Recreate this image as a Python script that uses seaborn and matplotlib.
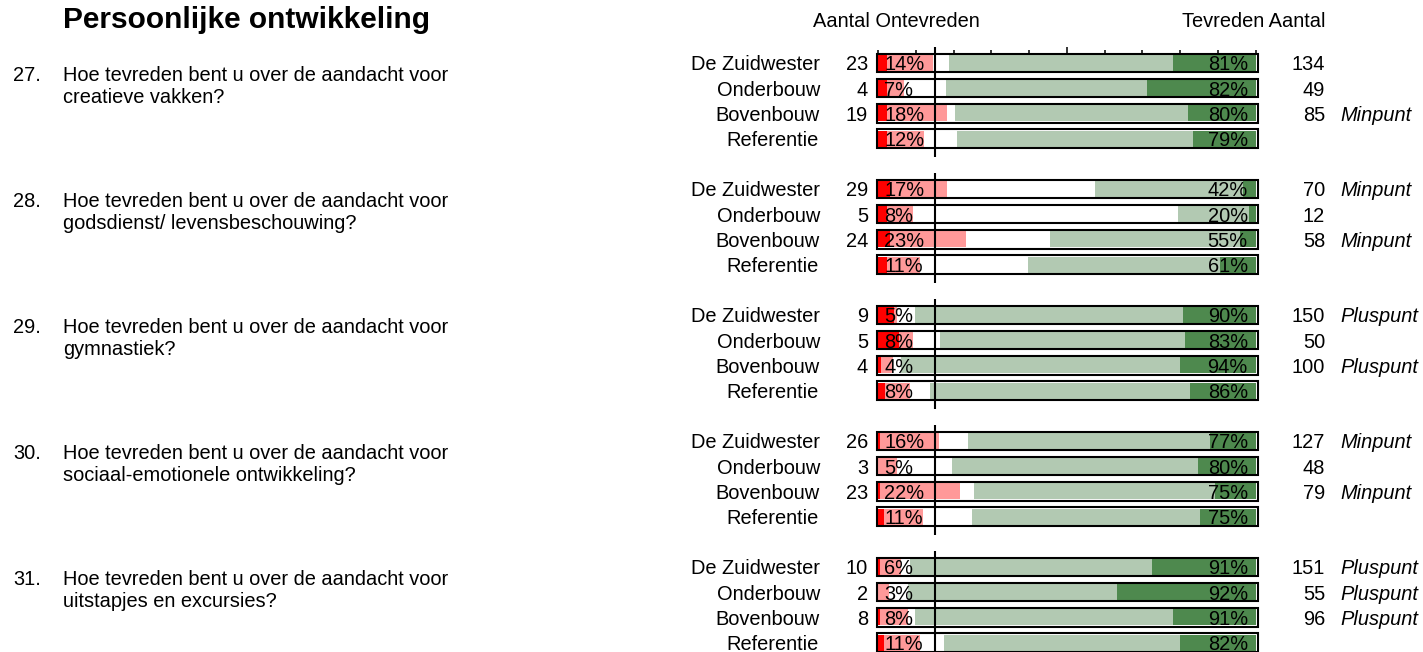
import numpy as np
import pandas as pd
import matplotlib
matplotlib.use("Agg")
import matplotlib.pyplot as plt
import matplotlib.transforms as mtransforms
import seaborn as sns

# ---------------- data ----------------
title = "Persoonlijke ontwikkeling"
header_left = "Aantal Ontevreden"
header_right = "Tevreden Aantal"
question_numbers = ["27.", "28.", "29.", "30.", "31."]
question_line1 = ["Hoe tevreden bent u over de aandacht voor"] * 5
question_line2 = ["creatieve vakken?",
                  "godsdienst/ levensbeschouwing?",
                  "gymnastiek?",
                  "sociaal-emotionele ontwikkeling?",
                  "uitstapjes en excursies?"]
groups = ["De Zuidwester", "Onderbouw", "Bovenbouw", "Referentie"]

# segments (percent) per row: 5 questions x 4 groups
zeer_ontevreden = [2.3, 2.3, 2.3, 2.3,
                   3.1, 2.3, 3.1, 2.3,
                   4.2, 5.5, 0.8, 1.8,
                   0.5, 0.0, 0.5, 1.5,
                   0.5, 0.0, 0.5, 1.5]
ontevreden = [12.2, 4.7, 16.1, 9.9,
              15.3, 7.0, 20.1, 8.8,
              0.9, 3.7, 3.2, 6.8,
              15.7, 5.0, 21.1, 10.3,
              5.5, 3.0, 7.5, 9.6]
neutraal = [4.4, 11.1, 1.9, 8.6,
            39.1, 70.2, 22.4, 28.5,
            4.6, 7.1, 2.0, 5.1,
            7.5, 14.7, 3.9, 13.2,
            2.6, 5.0, 1.7, 6.5]
tevreden = [59.2, 53.2, 61.8, 62.6,
            39.2, 18.6, 50.3, 51.0,
            71.1, 65.0, 74.0, 68.9,
            64.2, 65.1, 63.7, 60.3,
            64.0, 55.3, 68.4, 62.4]
zeer_tevreden = [21.9, 28.7, 17.9, 16.6,
                 3.3, 1.9, 4.1, 9.4,
                 19.2, 18.7, 20.0, 17.4,
                 12.1, 15.2, 10.8, 14.7,
                 27.4, 36.7, 21.9, 20.0]

label_ontevreden = [14, 7, 18, 12, 17, 8, 23, 11, 5, 8, 4, 8, 16, 5, 22, 11, 6, 3, 8, 11]
label_tevreden = [81, 82, 80, 79, 42, 20, 55, 61, 90, 83, 94, 86, 77, 80, 75, 75, 91, 92, 91, 82]
aantal_ontevreden = [23, 4, 19, None, 29, 5, 24, None, 9, 5, 4, None,
                     26, 3, 23, None, 10, 2, 8, None]
aantal_tevreden = [134, 49, 85, None, 70, 12, 58, None, 150, 50, 100, None,
                   127, 48, 79, None, 151, 55, 96, None]
punt = ["", "", "Minpunt", "",
        "Minpunt", "", "Minpunt", "",
        "Pluspunt", "", "Pluspunt", "",
        "Minpunt", "", "Minpunt", "",
        "Pluspunt", "Pluspunt", "Pluspunt", ""]

# ---------------- style ----------------
sns.set_theme(style="white")
plt.rcParams["font.family"] = ["Liberation Sans", "DejaVu Sans"]
plt.rcParams["text.color"] = "black"

C_RED = "#FF0000"
C_PINK = "#FF9999"
C_LGREEN = "#B2C9B2"
C_DGREEN = "#4E894E"
FS = 14.4

W, H = 1423, 652
fig = plt.figure(figsize=(W / 100, H / 100), dpi=100)
fig.patch.set_facecolor("white")

ROW_PX = 25.2
ROW0_PX = 63.0
AX_TOP_PX = 53.0
ax = fig.add_axes([878 / W, 0, 377.7 / W, (H - AX_TOP_PX) / H])

n_groups = len(question_numbers)
n_rows = len(groups)
ypos = [g * 5 + r for g in range(n_groups) for r in range(n_rows)]

c1 = np.array(zeer_ontevreden)
c2 = c1 + np.array(ontevreden)
c3 = c2 + np.array(neutraal)
c4 = c3 + np.array(tevreden)
c5 = c4 + np.array(zeer_tevreden)
df = pd.DataFrame({"ypos": ypos, "c1": c1, "c2": c2, "c3": c3, "c4": c4, "c5": c5})

for col, color in [("c5", C_DGREEN), ("c4", C_LGREEN), ("c3", "white"),
                   ("c2", C_PINK), ("c1", C_RED)]:
    sns.barplot(data=df, x=col, y="ypos", orient="y", native_scale=True,
                color=color, saturation=1, width=0.64, errorbar=None,
                linewidth=0, edgecolor="none", ax=ax, zorder=2)

# frames around each bar
ax.barh(df["ypos"], 100.8, left=-0.3, height=0.73, fill=False,
        edgecolor="black", linewidth=1.5, clip_on=False, zorder=3)

# vertical reference line per question
for g in range(n_groups):
    ax.vlines(15, g * 5 - 0.62, g * 5 + 3.73, colors="black", linewidth=1.5,
              zorder=5, clip_on=False)

ax.set_xlim(0, 100)
ax.set_ylim((H - ROW0_PX) / ROW_PX, -(ROW0_PX - AX_TOP_PX) / ROW_PX)
ax.set_xlabel("")
ax.set_ylabel("")
ax.set_yticks([])
for s in ax.spines.values():
    s.set_visible(False)
ax.xaxis.set_ticks_position("top")
ax.set_xticks([50])
ax.set_xticks([t for t in range(0, 101, 10) if t != 50], minor=True)
ax.tick_params(axis="x", which="major", direction="out", length=4, width=1.1,
               color="black", top=True, bottom=False, labeltop=False, labelbottom=False)
ax.tick_params(axis="x", which="minor", direction="out", length=2.5, width=1.1,
               color="black", top=True, bottom=False, labeltop=False, labelbottom=False)
ax.set_facecolor("none")

# ---------------- texts ----------------
tr = mtransforms.blended_transform_factory(fig.transFigure, ax.transData)
BASE = 0.29  # baseline offset (rows) for row-centred text
TXT = dict(color="black")

fig.text(63 / W, 1 - 28.3 / H, title, fontsize=21.5, fontweight="bold",
         va="baseline", ha="left", **TXT)
fig.text(813 / W, 1 - 27 / H, header_left, fontsize=FS, va="baseline", ha="left", **TXT)
fig.text(1326 / W, 1 - 27 / H, header_right, fontsize=FS, va="baseline", ha="right", **TXT)

for g in range(n_groups):
    y0 = g * 5
    ax.text(13 / W, y0 + (81 - ROW0_PX) / ROW_PX, question_numbers[g], transform=tr,
            fontsize=FS, va="baseline", ha="left", **TXT)
    ax.text(63 / W, y0 + (81 - ROW0_PX) / ROW_PX, question_line1[g], transform=tr,
            fontsize=FS, va="baseline", ha="left", **TXT)
    ax.text(63 / W, y0 + (103.3 - ROW0_PX) / ROW_PX, question_line2[g], transform=tr,
            fontsize=FS, va="baseline", ha="left", **TXT)

cat_texts = []
for i, y in enumerate(ypos):
    t = ax.text(772 / W, y + BASE, groups[i % n_rows], transform=tr,
                fontsize=FS, va="baseline", ha="center", **TXT)
    cat_texts.append(t)
    if aantal_ontevreden[i] is not None:
        ax.text(868 / W, y + BASE, str(aantal_ontevreden[i]), transform=tr,
                fontsize=FS, va="baseline", ha="right", **TXT)
    if aantal_tevreden[i] is not None:
        ax.text(1325 / W, y + BASE, str(aantal_tevreden[i]), transform=tr,
                fontsize=FS, va="baseline", ha="right", **TXT)
    if punt[i]:
        ax.text(1340 / W, y + BASE, punt[i], transform=tr, fontsize=FS,
                va="baseline", ha="left", fontstyle="italic", **TXT)
    ax.text(1.6, y + BASE, f"{label_ontevreden[i]}%", fontsize=FS,
            va="baseline", ha="left", zorder=6, **TXT)
    ax.text(97.9, y + BASE, f"{label_tevreden[i]}%", fontsize=FS,
            va="baseline", ha="right", zorder=6, **TXT)

# keep long category labels from running into the counts
renderer = fig.canvas.get_renderer()
for t in cat_texts:
    bb = t.get_window_extent(renderer)
    if bb.x1 > 823:
        t.set_ha("right")
        t.set_x(820 / W)

fig.savefig("out.png", dpi=100, facecolor="white")
